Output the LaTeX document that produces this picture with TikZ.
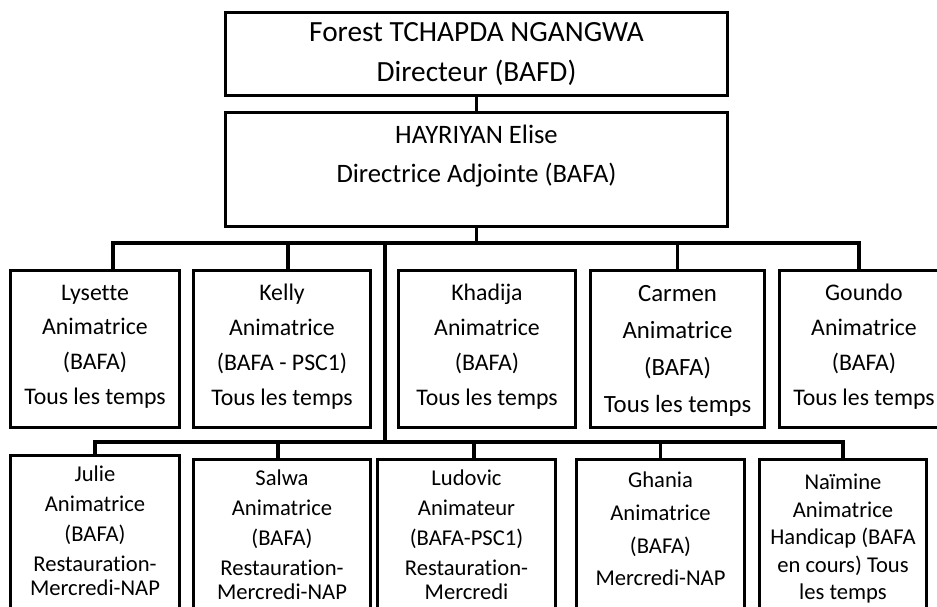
\documentclass[tikz,border=0pt]{standalone}
\usepackage{fontspec}
\setmainfont{Carlito}[Ligatures=NoCommon]

\tikzset{
  box/.style={draw, line width=3pt, inner sep=0pt},
  wire/.style={line width=3.5pt},
  txt/.style={align=center, inner sep=0pt},
  headtxt/.style={txt, font=\fontsize{29.3}{40}\selectfont},
  subtxt/.style={txt, font=\fontsize{26.6}{39}\selectfont},
  rowtxt/.style={txt, font=\fontsize{23.8}{34.8}\selectfont},
  lowtxt/.style={txt, font=\fontsize{22.6}{30}\selectfont},
}

\begin{document}
\begin{tikzpicture}[x=1pt,y=-1pt]
			%%%%% START %%%%%
			\useasboundingbox (0,0) rectangle (937,607);
			\clip (0,0) rectangle (937,607);
			
			% direction
			\node[box, minimum width=502pt, minimum height=83pt] (director) at (476.5,54) {};
			\node[box, minimum width=502pt, minimum height=114pt] (adjointe) at (476.5,169.5) {};
			\node[headtxt] (directortxt) at ([yshift=-0.5pt]director.center) {Forest TCHAPDA NGANGWA\\Directeur (BAFD)};
			\node[subtxt] (adjointetxt) at ([yshift=13pt]adjointe.center) {HAYRIYAN Elise\\Directrice Adjointe (BAFA)};
			
			% first row
			\node[box, minimum width=169pt, minimum height=157pt] (lysette) at (95,349) {};
			\node[box, minimum width=177pt, minimum height=157pt] (kelly) at (282,349) {};
			\node[box, minimum width=177pt, minimum height=157pt] (khadija) at (487,349) {};
			\node[box, minimum width=174pt, minimum height=157pt] (carmen) at (677.5,349) {};
			\node[box, minimum width=169pt, minimum height=157pt] (goundo) at (864,349) {};
			
			\node[rowtxt] (lysettetxt) at ([yshift=2.5pt]lysette.center) {Lysette\\Animatrice\\(BAFA)\\Tous les temps};
			\node[rowtxt] (kellytxt) at ([yshift=2.5pt]kelly.center) {Kelly\\Animatrice\\(BAFA - PSC1)\\Tous les temps};
			\node[rowtxt] (khadijatxt) at ([yshift=2.5pt]khadija.center) {Khadija\\Animatrice\\(BAFA)\\Tous les temps};
			\node[rowtxt, font=\fontsize{24.8}{37}\selectfont] (carmentxt) at ([yshift=-2pt]carmen.center) {Carmen\\Animatrice\\(BAFA)\\Tous les temps};
			\node[rowtxt] (goundotxt) at ([yshift=2.5pt]goundo.center) {Goundo\\Animatrice\\(BAFA)\\Tous les temps};
			
			% second row
			\node[box, minimum width=169pt, minimum height=184.5pt] (julie) at (95,547.75) {};
			\node[box, minimum width=177pt, minimum height=180.5pt] (salwa) at (282,549.75) {};
			\node[box, minimum width=178pt, minimum height=180.5pt] (ludovic) at (466.5,549.75) {};
			\node[box, minimum width=168pt, minimum height=180.5pt] (ghania) at (660.5,549.75) {};
			\node[box, minimum width=167pt, minimum height=180.5pt] (naimine) at (843,549.75) {};
			
			\node[lowtxt] (julietxt) at ([yshift=-77pt]julie.north) {Julie\\Animatrice\\(BAFA)\\Restauration-\\[-6pt]Mercredi-NAP};
			\node[lowtxt] (salwatxt) at ([yshift=-76.5pt]salwa.north) {Salwa\\Animatrice\\(BAFA)\\Restauration-\\[-6pt]Mercredi-NAP};
			\node[lowtxt] (ludovictxt) at ([yshift=-76.5pt]ludovic.north) {Ludovic\\Animateur\\(BAFA-PSC1)\\Restauration-\\[-6pt]Mercredi};
			\node[lowtxt, font=\fontsize{22.6}{32.7}\selectfont] (ghaniatxt) at ([yshift=-71pt]ghania.north) {Ghania\\Animatrice\\(BAFA)\\Mercredi-NAP};
			\node[lowtxt, font=\fontsize{22.6}{27.5}\selectfont] (naiminetxt) at ([yshift=-81pt]naimine.north) {Naïmine\\Animatrice\\Handicap (BAFA\\en cours) Tous\\les temps};
			
			% connectors
			\coordinate (bus1) at (476.5,243);
			\coordinate (trunk) at (385,243);
			\coordinate (bus2) at (385,442);
			
			\draw[wire] (director) -- (adjointe);
			\draw[wire] (adjointe.south) -- (bus1);
			\draw[wire] ([xshift=18pt]lysette.north) |- (bus1) -| ([xshift=-5pt]goundo.north);
			\draw[wire] ([xshift=6pt]kelly.north) -- ([xshift=6pt]kelly.north |- bus1);
			\draw[wire] (carmen.north) -- (carmen.north |- bus1);
			\draw[wire] (trunk) -- (bus2);
			
			\draw[wire] (julie.north) |- (bus2) -| (naimine.north);
			\draw[wire] ([xshift=-4pt]salwa.north) -- ([xshift=-4pt]salwa.north |- bus2);
			\draw[wire] ([xshift=7.5pt]ludovic.north) -- ([xshift=7.5pt]ludovic.north |- bus2);
			\draw[wire] (ghania.north) -- (ghania.north |- bus2);
			%%%%% END %%%%%
\end{tikzpicture}
\end{document}
